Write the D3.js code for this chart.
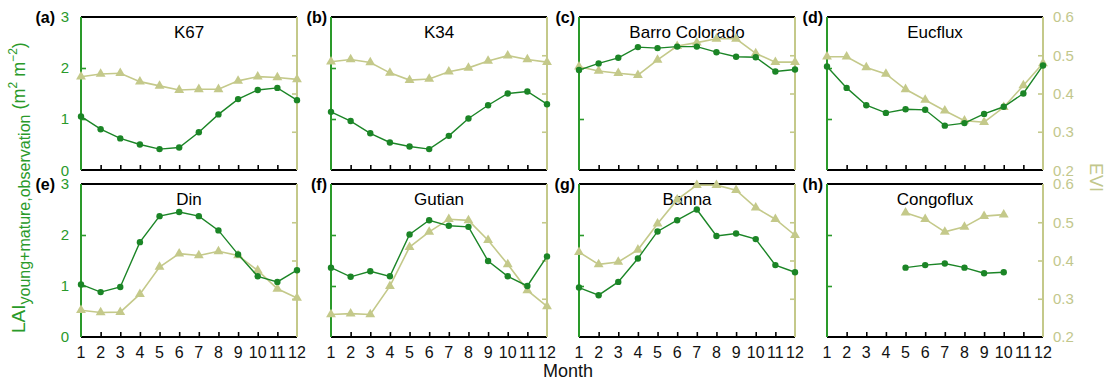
<!DOCTYPE html>
<html><head><meta charset="utf-8">
<script src="https://cdn.jsdelivr.net/npm/d3@7"></script>
<style>
html,body{margin:0;padding:0;background:#fff;}
svg{display:block;font-family:"Liberation Sans",Arial,sans-serif;}
</style></head>
<body><svg id="chart" width="1112" height="383"></svg>
<script>
// ---- data ----
const months = [1,2,3,4,5,6,7,8,9,10,11,12];
const sites = ["K67","K34","Barro Colorado","Eucflux","Din","Gutian","Banna","Congoflux"];
const panelLetters = ["(a)","(b)","(c)","(d)","(e)","(f)","(g)","(h)"];
const laiTicks = [0,1,2,3];
const eviTicks = [0.2,0.3,0.4,0.5,0.6];

const laiK67 = [1.05,0.80,0.62,0.50,0.41,0.44,0.74,1.09,1.39,1.57,1.61,1.37];
const eviK67 = [0.444,0.451,0.453,0.431,0.420,0.409,0.411,0.411,0.433,0.444,0.442,0.437];
const laiK34 = [1.14,0.96,0.72,0.54,0.46,0.41,0.67,1.01,1.27,1.50,1.54,1.29];
const eviK34 = [0.483,0.489,0.481,0.454,0.435,0.438,0.457,0.467,0.485,0.499,0.489,0.482];
const laiBarro = [1.96,2.09,2.20,2.41,2.39,2.42,2.42,2.31,2.22,2.21,1.93,1.97];
const eviBarro = [0.470,0.459,0.453,0.448,0.488,0.524,0.533,0.543,0.543,0.505,0.482,0.482];
const laiEucflux = [2.03,1.61,1.27,1.12,1.19,1.18,0.87,0.92,1.10,1.24,1.50,2.05];
const eviEucflux = [0.496,0.496,0.468,0.451,0.411,0.383,0.355,0.329,0.325,0.364,0.421,0.479];
const laiDin = [1.03,0.88,0.98,1.86,2.37,2.45,2.37,2.09,1.62,1.19,1.08,1.31];
const eviDin = [0.270,0.264,0.265,0.312,0.383,0.418,0.413,0.424,0.413,0.374,0.326,0.302];
const laiGutian = [1.36,1.18,1.29,1.19,2.01,2.29,2.18,2.16,1.49,1.19,1.00,1.58];
const eviGutian = [0.259,0.261,0.259,0.333,0.435,0.475,0.508,0.505,0.453,0.390,0.322,0.280];
const laiBanna = [0.97,0.82,1.08,1.54,2.07,2.29,2.50,1.98,2.03,1.92,1.41,1.27];
const eviBanna = [0.422,0.390,0.396,0.428,0.496,0.559,0.597,0.597,0.584,0.538,0.508,0.466];
const laiCongo = [null,null,null,null,1.36,1.41,1.44,1.36,1.25,1.27,null,null];
const eviCongo = [null,null,null,null,0.525,0.508,0.475,0.488,0.516,0.520,null,null];

const laiSeries = [laiK67,laiK34,laiBarro,laiEucflux,laiDin,laiGutian,laiBanna,laiCongo];
const eviSeries = [eviK67,eviK34,eviBarro,eviEucflux,eviDin,eviGutian,eviBanna,eviCongo];

// ---- style ----
const GREEN = "#1b8526";
const GREEN_AX = "#2a9a2a";
const KHAKI = "#c4c98a";
const KHAKI_TXT = "#c2c78c";

const svg = d3.select("#chart");
const lefts = [81, 331, 579, 827];
const tops = [17, 184];
const W = 216, H = 153;

sites.forEach((site, i) => {
  const col = i % 4, row = Math.floor(i / 4);
  const x0 = lefts[col], y0 = tops[row];
  const g = svg.append("g").attr("transform", `translate(${x0},${y0})`);
  const x = d3.scaleLinear().domain([1,12]).range([0,W]);
  const yL = d3.scaleLinear().domain([0,3]).range([H,0]);
  const yR = d3.scaleLinear().domain([0.2,0.6]).range([H,0]);

  // bottom ticks (inward)
  const bAxis = d3.axisTop(x).tickValues(months.slice(1,11)).tickSize(5).tickFormat("");
  const bg = g.append("g").attr("transform", `translate(0,${H})`).call(bAxis);
  bg.select(".domain").remove();
  bg.selectAll("line").attr("stroke","#000").attr("stroke-width",1.6);

  // left ticks (inward)
  const lAxis = d3.axisRight(yL).tickValues([1,2]).tickSize(5).tickFormat("");
  const lg = g.append("g").call(lAxis);
  lg.select(".domain").remove();
  lg.selectAll("line").attr("stroke",GREEN_AX).attr("stroke-width",1.6);

  // right ticks (inward)
  const rAxis = d3.axisLeft(yR).tickValues([0.3,0.4,0.5]).tickSize(5).tickFormat("");
  const rg = g.append("g").attr("transform", `translate(${W},0)`).call(rAxis);
  rg.select(".domain").remove();
  rg.selectAll("line").attr("stroke",KHAKI).attr("stroke-width",1.6);

  // frame
  g.append("line").attr("x1",0).attr("x2",W).attr("y1",0).attr("y2",0).attr("stroke","#000").attr("stroke-width",2);
  g.append("line").attr("x1",0).attr("x2",W).attr("y1",H).attr("y2",H).attr("stroke","#000").attr("stroke-width",2);
  g.append("line").attr("x1",0).attr("x2",0).attr("y1",0).attr("y2",H).attr("stroke",GREEN_AX).attr("stroke-width",2);
  g.append("line").attr("x1",W).attr("x2",W).attr("y1",0).attr("y2",H).attr("stroke",KHAKI).attr("stroke-width",2);

  // left tick labels
  if (col === 0) {
    laiTicks.forEach(t => {
      g.append("text").attr("x",-12).attr("y",yL(t) + (row===0 && t===0 ? 1 : 0)).attr("dy","0.36em")
        .attr("text-anchor","end").attr("font-size",15).attr("fill",GREEN_AX).text(t);
    });
  }
  // right tick labels
  if (col === 3) {
    eviTicks.forEach(t => {
      g.append("text").attr("x",W+10).attr("y",yR(t) + (row===0 && t===0.2 ? 1 : 0)).attr("dy","0.36em")
        .attr("text-anchor","start").attr("font-size",15).attr("fill",KHAKI_TXT).text(t.toFixed(1));
    });
  }
  // month labels
  if (row === 1) {
    months.forEach(m => {
      g.append("text").attr("x",x(m)).attr("y",H+21).attr("text-anchor","middle")
        .attr("font-size",16).attr("fill","#111").text(m);
    });
  }

  // panel letter
  g.append("text").attr("x", col === 0 ? -26 : -4).attr("y",0).attr("dy","0.36em")
    .attr("text-anchor","end").attr("font-weight","bold").attr("font-size",16).attr("fill","#000").text(panelLetters[i]);

  // title
  g.append("text").attr("x",W/2).attr("y",21).attr("text-anchor","middle")
    .attr("font-size",17).attr("fill","#000").text(site);

  // EVI series
  const eviData = months.map((m,k)=>({m, v: eviSeries[i][k]})).filter(d=>d.v!=null);
  g.append("path").datum(eviData)
    .attr("d", d3.line().x(d=>x(d.m)).y(d=>yR(d.v)))
    .attr("fill","none").attr("stroke",KHAKI).attr("stroke-width",1.6);
  g.selectAll(".tri").data(eviData).enter().append("path")
    .attr("transform", d=>`translate(${x(d.m)},${yR(d.v)})`)
    .attr("d", d3.symbol().type(d3.symbolTriangle).size(42))
    .attr("fill",KHAKI);

  // LAI series
  const laiData = months.map((m,k)=>({m, v: laiSeries[i][k]})).filter(d=>d.v!=null);
  g.append("path").datum(laiData)
    .attr("d", d3.line().x(d=>x(d.m)).y(d=>yL(d.v)))
    .attr("fill","none").attr("stroke",GREEN).attr("stroke-width",1.4);
  g.selectAll(".dot").data(laiData).enter().append("circle")
    .attr("cx", d=>x(d.m)).attr("cy", d=>yL(d.v)).attr("r",3.2)
    .attr("fill",GREEN);
});

// Y axis label (left)
const yl = svg.append("text").attr("transform","translate(25,333) rotate(-90)")
  .attr("text-anchor","start").attr("fill",GREEN_AX);
yl.append("tspan").attr("font-size",19).text("LAI");
yl.append("tspan").attr("font-size",16).attr("dy",5).text("young+mature,observation");
yl.append("tspan").attr("font-size",18).attr("dy",-5).text(" (m");
yl.append("tspan").attr("font-size",12).attr("dy",-8).text("2");
yl.append("tspan").attr("font-size",18).attr("dy",8).text(" m");
yl.append("tspan").attr("font-size",12).attr("dy",-8).text("\u22122");
yl.append("tspan").attr("font-size",18).attr("dy",8).text(")");

// Right axis label
svg.append("text").attr("transform","translate(1090,163) rotate(90)")
  .attr("text-anchor","start").attr("font-size",18).attr("fill",KHAKI_TXT).text("EVI");

// X axis label
svg.append("text").attr("x",568).attr("y",377).attr("text-anchor","middle")
  .attr("font-size",18).attr("fill","#111").text("Month");
</script>
</body></html>
